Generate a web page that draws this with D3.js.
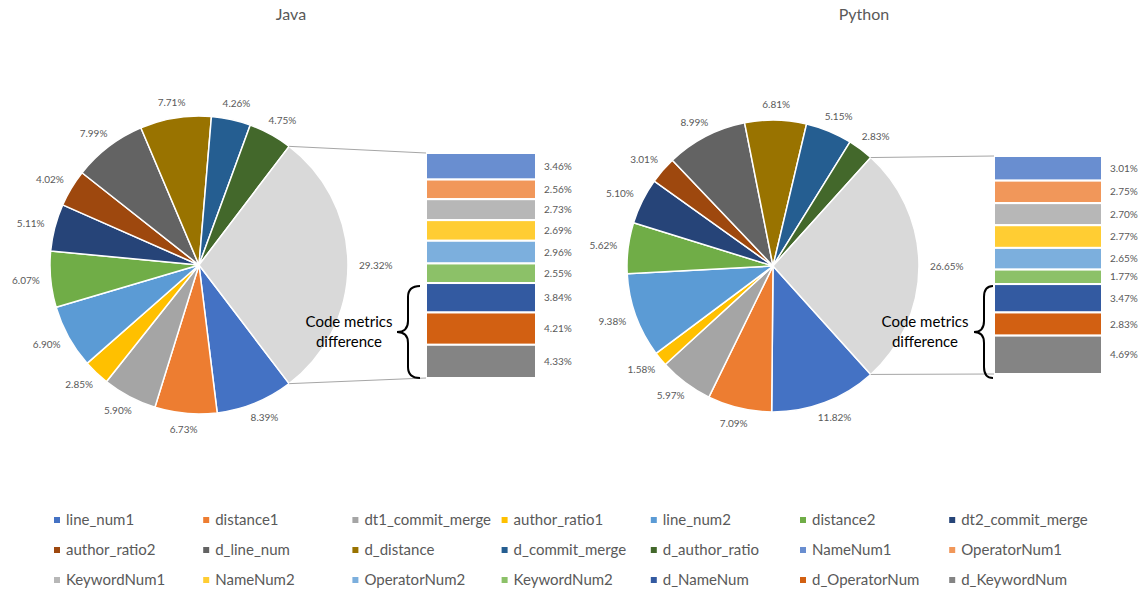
<!DOCTYPE html>
<html>
<head>
<meta charset="utf-8">
<script src="https://cdn.jsdelivr.net/npm/d3@7"></script>
<style>
  html, body { margin: 0; padding: 0; background: #ffffff; }
  svg { display: block; font-family: Lato, "Open Sans", sans-serif; }
</style>
</head>
<body>
<svg id="chart" width="1144" height="592"></svg>
<script>
// Metrics shown as slices of the main pie
const mainLabels = ["line_num1", "distance1", "dt1_commit_merge", "author_ratio1", "line_num2", "distance2",
  "dt2_commit_merge", "author_ratio2", "d_line_num", "d_distance", "d_commit_merge", "d_author_ratio"];
// Metrics grouped into the "other" slice and shown in the side bar
const subLabels = ["NameNum1", "OperatorNum1", "KeywordNum1", "NameNum2", "OperatorNum2", "KeywordNum2",
  "d_NameNum", "d_OperatorNum", "d_KeywordNum"];

const mainColors = ["#4472C4", "#ED7D31", "#A5A5A5", "#FFC000", "#5B9BD5", "#70AD47",
  "#264478", "#9E480E", "#636363", "#997300", "#255E91", "#43682B"];
const subColors = ["#698ED0", "#F1975A", "#B7B7B7", "#FFCD33", "#7CAFDD", "#8CC168",
  "#335AA1", "#D26012", "#848484"];
const otherColor = "#D9D9D9";

const javaMain = [8.39, 6.73, 5.90, 2.85, 6.90, 6.07, 5.11, 4.02, 7.99, 7.71, 4.26, 4.75];
const javaOther = 29.32;
const javaSub = [3.46, 2.56, 2.73, 2.69, 2.96, 2.55, 3.84, 4.21, 4.33];

const pythonMain = [11.82, 7.09, 5.97, 1.58, 9.38, 5.62, 5.10, 3.01, 8.99, 6.81, 5.15, 2.83];
const pythonOther = 26.65;
const pythonSub = [3.01, 2.75, 2.70, 2.77, 2.65, 1.77, 3.47, 2.83, 4.69];

const chartTitles = ["Java", "Python"];
const groupNote = ["Code metrics", "difference"];

const svg = d3.select("#chart");
const labelColor = "#595959";

function drawBarOfPie(cfg) {
  const g = svg.append("g");
  const slices = cfg.main.map((v, i) => ({ name: mainLabels[i], value: v, color: mainColors[i] }))
    .concat([{ name: "other", value: cfg.other, color: otherColor }]);
  const total = d3.sum(slices, d => d.value);
  const f = cfg.other / total;
  const start = Math.PI / 2 + f * Math.PI; // centres the "other" slice at 3 o'clock
  const pie = d3.pie().sort(null).value(d => d.value).startAngle(start).endAngle(start + 2 * Math.PI);
  const arcs = pie(slices);
  const arc = d3.arc().innerRadius(0).outerRadius(cfg.r);

  // title
  g.append("text").attr("x", cfg.titleX).attr("y", 20).attr("text-anchor", "middle")
    .attr("fill", labelColor).attr("font-size", 16).text(cfg.title);

  const pg = g.append("g").attr("transform", `translate(${cfg.cx},${cfg.cy})`);
  pg.selectAll("path").data(arcs).join("path")
    .attr("d", arc).attr("fill", d => d.data.color)
    .attr("stroke", "#ffffff").attr("stroke-width", 1.5).attr("stroke-linejoin", "round");

  // outside-end value labels
  pg.selectAll("text.val").data(arcs).join("text").attr("class", "val")
    .attr("font-size", 10).attr("fill", labelColor).attr("text-anchor", "middle").attr("dy", "0.35em")
    .text(d => d.data.value.toFixed(2) + "%")
    .each(function (d) {
      const a = (d.startAngle + d.endAngle) / 2;
      const ux = Math.sin(a), uy = -Math.cos(a);
      const w = this.getComputedTextLength(), h = 10;
      const gap = 11;
      const x = ux * (cfg.r + gap) + ux * w / 2;
      const y = uy * (cfg.r + gap) + uy * h / 2;
      d3.select(this).attr("x", x).attr("y", y);
    });

  // side bar for the "other" slice
  const subTotal = d3.sum(cfg.sub);
  const y = d3.scaleLinear().domain([0, subTotal]).range([cfg.barTop, cfg.barBottom]);
  const cum = d3.cumsum(cfg.sub);
  const bars = cfg.sub.map((v, i) => ({ name: subLabels[i], value: v, color: subColors[i], y0: cum[i] - v, y1: cum[i] }));
  g.selectAll("rect.bar").data(bars).join("rect").attr("class", "bar")
    .attr("x", cfg.barX).attr("width", cfg.barW)
    .attr("y", d => y(d.y0)).attr("height", d => y(d.y1) - y(d.y0))
    .attr("fill", d => d.color).attr("stroke", "#ffffff").attr("stroke-width", 2);
  g.selectAll("text.barval").data(bars).join("text").attr("class", "barval")
    .attr("x", cfg.barX + cfg.barW + 8).attr("y", d => (y(d.y0) + y(d.y1)) / 2).attr("dy", "0.35em")
    .attr("font-size", 10).attr("fill", labelColor)
    .text(d => d.value.toFixed(2) + "%");

  // connector lines from the "other" slice edges to the bar
  const other = arcs[arcs.length - 1];
  const pt = a => [cfg.cx + cfg.r * Math.sin(a), cfg.cy - cfg.r * Math.cos(a)];
  const pTop = pt(other.startAngle), pBot = pt(other.endAngle);
  g.append("line").attr("x1", pTop[0]).attr("y1", pTop[1]).attr("x2", cfg.barX).attr("y2", cfg.barTop)
    .attr("stroke", "#a6a6a6").attr("stroke-width", 1);
  g.append("line").attr("x1", pBot[0]).attr("y1", pBot[1]).attr("x2", cfg.barX).attr("y2", cfg.barBottom)
    .attr("stroke", "#a6a6a6").attr("stroke-width", 1);

  // brace marking the difference metrics
  const b = cfg.brace, c = 11;
  const ym = (b.y0 + b.y1) / 2;
  const bracePath = `M${b.xr},${b.y0} Q${b.xm},${b.y0} ${b.xm},${b.y0 + c} L${b.xm},${ym - c}`
    + ` Q${b.xm},${ym} ${b.xt},${ym} Q${b.xm},${ym} ${b.xm},${ym + c} L${b.xm},${b.y1 - c}`
    + ` Q${b.xm},${b.y1} ${b.xr},${b.y1}`;
  g.append("path").attr("d", bracePath).attr("fill", "none").attr("stroke", "#000000").attr("stroke-width", 2);

  const nt = g.append("text").attr("font-size", 15).attr("fill", "#000000").attr("text-anchor", "middle");
  groupNote.forEach((s, i) => {
    nt.append("tspan").attr("x", cfg.noteX).attr("y", 327 + i * 20).text(s);
  });
}

drawBarOfPie({
  title: chartTitles[0], titleX: 291, main: javaMain, other: javaOther, sub: javaSub,
  cx: 199, cy: 265, r: 149,
  barX: 426, barW: 110, barTop: 153, barBottom: 378,
  brace: { xr: 420, xm: 408, xt: 397, y0: 286, y1: 378 },
  noteX: 349
});
drawBarOfPie({
  title: chartTitles[1], titleX: 864, main: pythonMain, other: pythonOther, sub: pythonSub,
  cx: 773, cy: 266, r: 146,
  barX: 994, barW: 108, barTop: 156, barBottom: 374,
  brace: { xr: 993, xm: 984, xt: 974, y0: 286, y1: 378 },
  noteX: 925
});

// legend: 7 columns, 3 rows
const legendItems = mainLabels.map((n, i) => ({ name: n, color: mainColors[i] }))
  .concat(subLabels.map((n, i) => ({ name: n, color: subColors[i] })));
const lg = svg.append("g");
const li = lg.selectAll("g").data(legendItems).join("g")
  .attr("transform", (d, i) => `translate(${57 + (i % 7) * 149.2},${520 + Math.floor(i / 7) * 30})`);
li.append("rect").attr("x", -3).attr("y", -3).attr("width", 6).attr("height", 6).attr("fill", d => d.color);
li.append("text").attr("x", 9).attr("dy", "0.35em").attr("font-size", 15).attr("fill", labelColor).text(d => d.name);
</script>
</body>
</html>
